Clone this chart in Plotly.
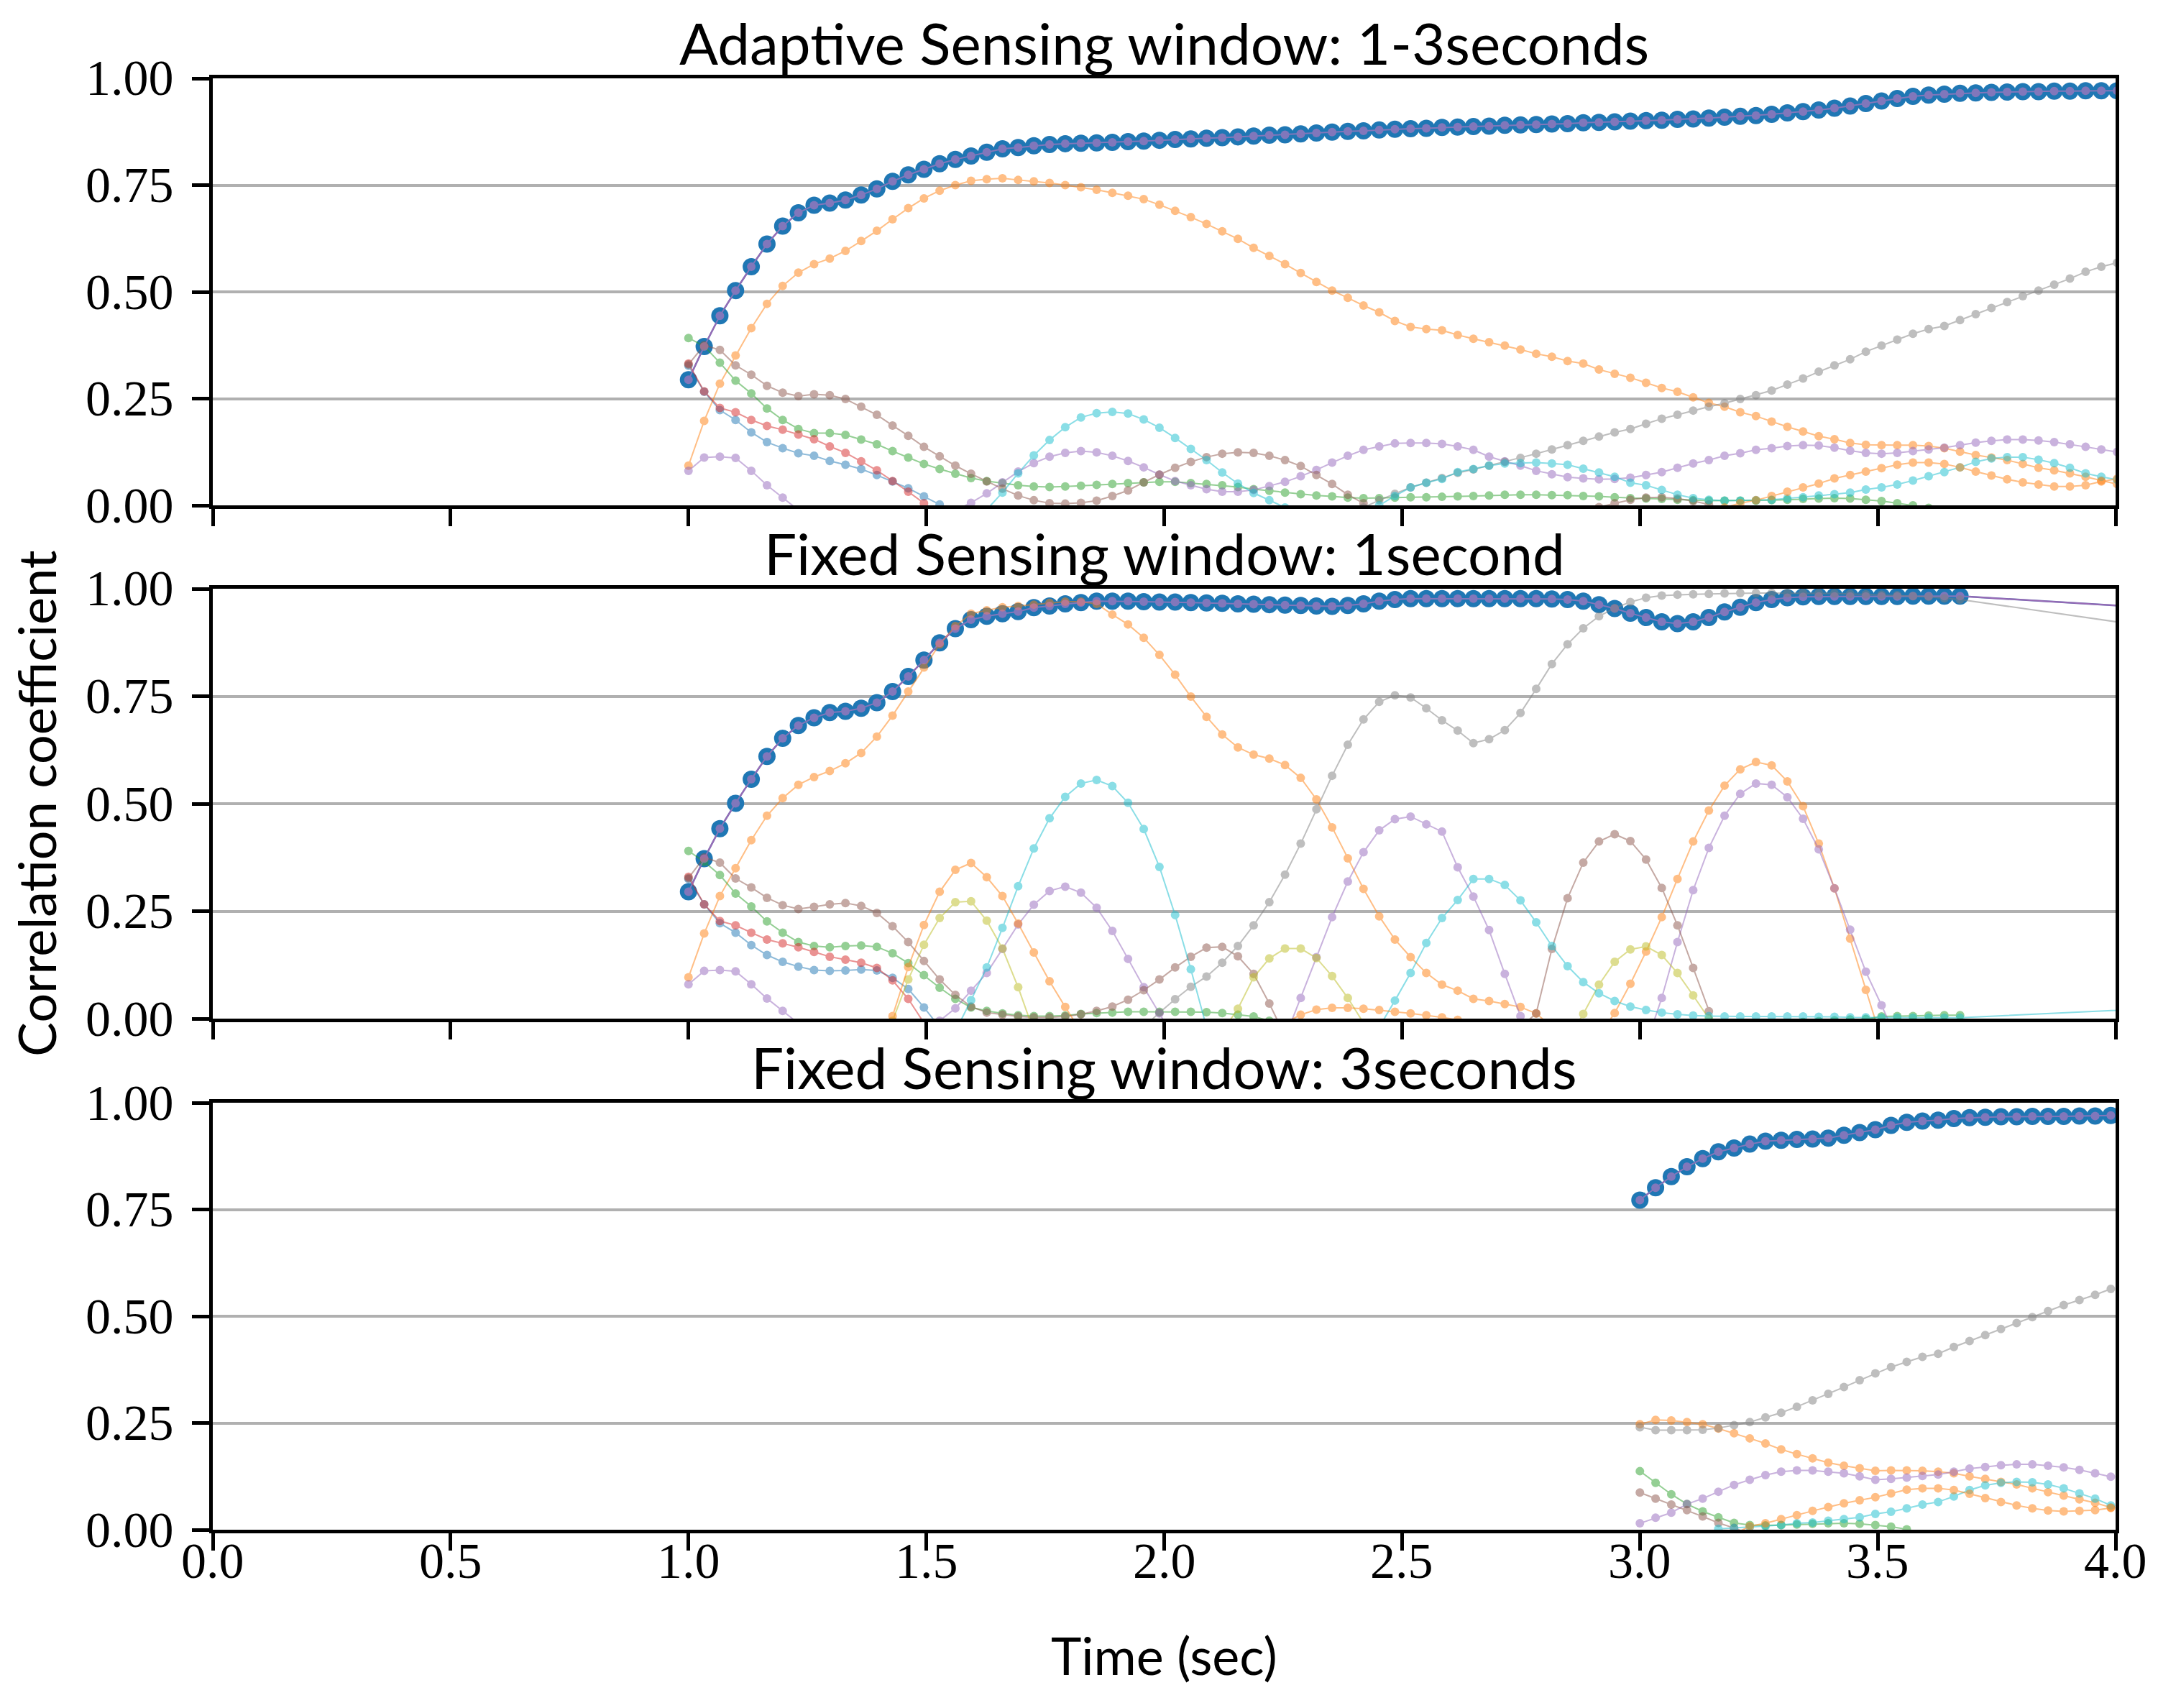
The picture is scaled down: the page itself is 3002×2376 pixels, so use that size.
import plotly.graph_objects as go

# ---------------- sampling ----------------
DT = 0.033          # sample period (s)
START_12 = 1.0      # first sample of panels 1 and 2
START_3 = 3.0       # first sample of panel 3
TAIL_T = 4.4        # next sample after the gap in panel 2 (outside the x range)

# ---------------- tick labels ----------------
X_TICKS = [0.0, 0.5, 1.0, 1.5, 2.0, 2.5, 3.0, 3.5, 4.0]
X_TICK_TEXT = ["0.0", "0.5", "1.0", "1.5", "2.0", "2.5", "3.0", "3.5", "4.0"]
Y_TICKS = [0.0, 0.25, 0.5, 0.75, 1.0]
Y_TICK_TEXT = ["0.00", "0.25", "0.50", "0.75", "1.00"]

TITLES = ["Adaptive Sensing window: 1-3seconds",
          "Fixed Sensing window: 1second",
          "Fixed Sensing window: 3seconds"]
Y_LABEL = "Correlation coefficient"
X_LABEL = "Time (sec)"

# ---------------- panel 1 (adaptive) : start index, values ----------------
P1_BLUE_K0 = 0
P1_BLUE = [0.327, 0.266, 0.223, 0.200, 0.171, 0.148, 0.134, 0.122, 0.116, 0.104,
           0.095, 0.085, 0.071, 0.056, 0.040, 0.021, 0.002, -0.020]
P1_ORANGE_K0 = 0
P1_ORANGE = [0.093, 0.198, 0.285, 0.351, 0.415, 0.472, 0.514, 0.545, 0.565, 0.578,
             0.596, 0.619, 0.643, 0.670, 0.696, 0.719, 0.737, 0.750, 0.760, 0.764,
             0.766, 0.762, 0.759, 0.755, 0.750, 0.745, 0.739, 0.732, 0.725, 0.717,
             0.704, 0.690, 0.675, 0.659, 0.642, 0.624, 0.603, 0.584, 0.565, 0.544,
             0.523, 0.503, 0.486, 0.468, 0.452, 0.432, 0.418, 0.413, 0.410, 0.399,
             0.390, 0.382, 0.374, 0.365, 0.355, 0.348, 0.338, 0.332, 0.318, 0.308,
             0.299, 0.287, 0.275, 0.266, 0.253, 0.240, 0.231, 0.218, 0.209, 0.196,
             0.184, 0.173, 0.162, 0.155, 0.146, 0.142, 0.141, 0.141, 0.141, 0.139,
             0.134, 0.126, 0.118, 0.112, 0.106, 0.097, 0.088, 0.082, 0.075, 0.067,
             0.058, 0.050]
P1_GREEN_K0 = 0
P1_GREEN = [0.392, 0.373, 0.334, 0.292, 0.262, 0.227, 0.200, 0.179, 0.169, 0.169,
            0.165, 0.154, 0.143, 0.127, 0.112, 0.097, 0.085, 0.074, 0.064, 0.057,
            0.052, 0.047, 0.044, 0.043, 0.044, 0.046, 0.048, 0.050, 0.052, 0.054,
            0.055, 0.055, 0.052, 0.050, 0.047, 0.043, 0.038, 0.034, 0.030, 0.026,
            0.023, 0.021, 0.018, 0.017, 0.017, 0.018, 0.019, 0.019, 0.020, 0.021,
            0.022, 0.023, 0.025, 0.025, 0.025, 0.024, 0.024, 0.022, 0.021, 0.019,
            0.017, 0.016, 0.015, 0.013, 0.012, 0.011, 0.011, 0.011, 0.011, 0.012,
            0.013, 0.015, 0.016, 0.017, 0.016, 0.013, 0.010, 0.005, 0.000, -0.006,
            -0.012]
P1_RED_K0 = 0
P1_RED = [0.332, 0.267, 0.228, 0.218, 0.200, 0.186, 0.177, 0.166, 0.155, 0.138,
          0.123, 0.103, 0.082, 0.057, 0.032, 0.005, -0.020, -0.045]
P1_PURPLE_K0 = 0
P1_PURPLE = [0.081, 0.112, 0.114, 0.111, 0.081, 0.047, 0.018, -0.012, -0.040, -0.060,
             -0.075, -0.085, -0.090, -0.085, -0.070, -0.050, -0.030, -0.012, 0.006, 0.028,
             0.054, 0.079, 0.099, 0.114, 0.123, 0.127, 0.124, 0.116, 0.104, 0.089,
             0.072, 0.057, 0.047, 0.038, 0.032, 0.032, 0.036, 0.045, 0.055, 0.068,
             0.083, 0.100, 0.116, 0.130, 0.138, 0.145, 0.146, 0.146, 0.144, 0.138,
             0.130, 0.114, 0.103, 0.093, 0.081, 0.073, 0.066, 0.063, 0.061, 0.062,
             0.065, 0.071, 0.078, 0.088, 0.098, 0.106, 0.116, 0.122, 0.130, 0.134,
             0.139, 0.141, 0.140, 0.135, 0.128, 0.123, 0.121, 0.123, 0.127, 0.131,
             0.135, 0.141, 0.147, 0.151, 0.154, 0.154, 0.152, 0.148, 0.143, 0.137,
             0.131, 0.125]
P1_BROWN_K0 = 0
P1_BROWN = [0.330, 0.375, 0.364, 0.328, 0.306, 0.280, 0.264, 0.256, 0.260, 0.258,
            0.249, 0.231, 0.212, 0.187, 0.163, 0.137, 0.115, 0.093, 0.074, 0.056,
            0.039, 0.023, 0.012, 0.005, 0.004, 0.006, 0.011, 0.022, 0.035, 0.054,
            0.072, 0.088, 0.102, 0.113, 0.121, 0.124, 0.123, 0.116, 0.106, 0.092,
            0.071, 0.050, 0.025, 0.005, -0.020, -0.045, -0.065, -0.080, -0.090, -0.095,
            -0.095, -0.090, -0.080, -0.068, -0.055, -0.040, -0.027, -0.015, -0.004, 0.005,
            0.013, 0.018, 0.019, 0.016, 0.010, 0.002, -0.010]
P1_PINK_K0 = 0
P1_PINK = [0.294, 0.372, 0.444, 0.503, 0.559, 0.612, 0.654, 0.685, 0.703, 0.708,
           0.715, 0.727, 0.741, 0.759, 0.774, 0.787, 0.800, 0.810, 0.818, 0.827,
           0.835, 0.838, 0.842, 0.845, 0.847, 0.848, 0.849, 0.850, 0.852, 0.853,
           0.855, 0.857, 0.858, 0.860, 0.861, 0.863, 0.865, 0.867, 0.868, 0.870,
           0.872, 0.874, 0.876, 0.877, 0.879, 0.881, 0.882, 0.883, 0.885, 0.886,
           0.887, 0.888, 0.890, 0.891, 0.892, 0.893, 0.894, 0.896, 0.897, 0.898,
           0.900, 0.901, 0.902, 0.904, 0.905, 0.907, 0.909, 0.911, 0.913, 0.916,
           0.919, 0.922, 0.926, 0.930, 0.935, 0.941, 0.947, 0.953, 0.958, 0.961,
           0.963, 0.965, 0.966, 0.967, 0.968, 0.969, 0.969, 0.970, 0.970, 0.971,
           0.971, 0.971]
P1_GRAY_K0 = 42
P1_GRAY = [-0.020, -0.005, 0.012, 0.027, 0.042, 0.053, 0.064, 0.076, 0.084, 0.093,
           0.102, 0.111, 0.121, 0.131, 0.141, 0.151, 0.161, 0.171, 0.179, 0.191,
           0.203, 0.212, 0.222, 0.231, 0.239, 0.249, 0.258, 0.269, 0.283, 0.297,
           0.313, 0.328, 0.342, 0.360, 0.374, 0.388, 0.402, 0.413, 0.420, 0.434,
           0.448, 0.462, 0.476, 0.490, 0.503, 0.517, 0.531, 0.547, 0.559, 0.568]
P1_CYAN_K0 = 19
P1_CYAN = [-0.010, 0.030, 0.075, 0.117, 0.153, 0.183, 0.206, 0.216, 0.219, 0.215,
           0.201, 0.182, 0.158, 0.132, 0.106, 0.077, 0.051, 0.029, 0.012, -0.005,
           -0.020, -0.030, -0.035, -0.030, -0.020, 0.000, 0.022, 0.042, 0.053, 0.062,
           0.078, 0.085, 0.093, 0.098, 0.099, 0.100, 0.098, 0.095, 0.086, 0.077,
           0.067, 0.053, 0.047, 0.036, 0.025, 0.017, 0.013, 0.011, 0.011, 0.012,
           0.013, 0.016, 0.019, 0.023, 0.026, 0.030, 0.037, 0.042, 0.049, 0.058,
           0.068, 0.078, 0.089, 0.102, 0.110, 0.113, 0.113, 0.107, 0.099, 0.088,
           0.075, 0.067, 0.060]
P1_ORANGE2_K0 = 66
P1_ORANGE2 = [-0.005, 0.005, 0.012, 0.022, 0.032, 0.042, 0.051, 0.063, 0.071, 0.079,
              0.087, 0.095, 0.100, 0.100, 0.097, 0.089, 0.079, 0.070, 0.061, 0.054,
              0.049, 0.044, 0.044, 0.047, 0.056, 0.062]

# ---------------- panel 2 (fixed 1 s) ----------------
P2_BLUE_K0 = 0
P2_BLUE = [0.325, 0.266, 0.222, 0.200, 0.171, 0.148, 0.132, 0.121, 0.113, 0.111,
           0.112, 0.114, 0.112, 0.095, 0.069, 0.026, -0.020]
P2_ORANGE_K0 = 0
P2_ORANGE = [0.096, 0.198, 0.285, 0.350, 0.415, 0.472, 0.513, 0.544, 0.562, 0.576,
             0.594, 0.618, 0.656, 0.705, 0.761, 0.817, 0.871, 0.913, 0.942, 0.950,
             0.957, 0.960, 0.963, 0.967, 0.970, 0.970, 0.965, 0.940, 0.917, 0.886,
             0.846, 0.800, 0.749, 0.702, 0.661, 0.631, 0.614, 0.605, 0.590, 0.560,
             0.510, 0.445, 0.373, 0.302, 0.238, 0.184, 0.143, 0.106, 0.079, 0.065,
             0.046, 0.041, 0.034, 0.027, 0.012, -0.020, -0.050, -0.060, -0.040, 0.013,
             0.081, 0.156, 0.236, 0.325, 0.412, 0.484, 0.542, 0.580, 0.597, 0.589,
             0.552, 0.494, 0.407, 0.303, 0.186, 0.067, -0.050]
P2_GREEN_K0 = 0
P2_GREEN = [0.390, 0.365, 0.334, 0.291, 0.261, 0.226, 0.200, 0.178, 0.169, 0.166,
            0.169, 0.170, 0.167, 0.152, 0.129, 0.101, 0.072, 0.046, 0.026, 0.018,
            0.012, 0.008, 0.006, 0.006, 0.007, 0.011, 0.013, 0.014, 0.016, 0.016,
            0.016, 0.016, 0.016, 0.015, 0.013, 0.009, 0.005, -0.005, -0.015, -0.025,
            -0.035, -0.045, -0.050, -0.055, -0.060, -0.060, -0.058, -0.057, -0.055, -0.052,
            -0.050, -0.049, -0.046, -0.044, -0.041, -0.040, -0.037, -0.036, -0.034, -0.031,
            -0.030, -0.027, -0.026, -0.024, -0.021, -0.020, -0.018, -0.015, -0.014, -0.012,
            -0.010, -0.008, -0.006, -0.004, -0.002, -0.001, 0.005, 0.006, 0.006, 0.007,
            0.008, 0.008]
P2_RED_K0 = 0
P2_RED = [0.330, 0.266, 0.227, 0.217, 0.200, 0.184, 0.175, 0.166, 0.155, 0.144,
          0.137, 0.130, 0.118, 0.089, 0.046, -0.010, -0.060]
P2_PURPLE_K0 = 0
P2_PURPLE = [0.080, 0.111, 0.113, 0.110, 0.080, 0.047, 0.018, -0.010, -0.040, -0.060,
             -0.075, -0.085, -0.085, -0.075, -0.055, -0.030, -0.005, 0.024, 0.065, 0.106,
             0.162, 0.219, 0.265, 0.297, 0.307, 0.293, 0.258, 0.204, 0.139, 0.073,
             0.012, -0.050, -0.090, -0.120, -0.130, -0.130, -0.120, -0.090, -0.045, 0.048,
             0.143, 0.236, 0.319, 0.387, 0.438, 0.464, 0.470, 0.452, 0.435, 0.352,
             0.284, 0.206, 0.104, 0.006, -0.090, -0.160, -0.200, -0.210, -0.190, -0.150,
             -0.100, -0.060, 0.048, 0.178, 0.299, 0.397, 0.472, 0.523, 0.547, 0.544,
             0.515, 0.465, 0.394, 0.303, 0.207, 0.109, 0.031, -0.050]
P2_BROWN_K0 = 0
P2_BROWN = [0.327, 0.375, 0.363, 0.326, 0.305, 0.281, 0.264, 0.255, 0.260, 0.266,
            0.269, 0.262, 0.246, 0.215, 0.178, 0.134, 0.091, 0.055, 0.028, 0.014,
            0.009, 0.005, 0.003, 0.003, 0.005, 0.010, 0.018, 0.028, 0.044, 0.066,
            0.091, 0.119, 0.144, 0.165, 0.167, 0.145, 0.104, 0.035, -0.040, -0.110,
            -0.170, -0.210, -0.230, -0.240, -0.240, -0.230, -0.210, -0.190, -0.160, -0.130,
            -0.100, -0.070, -0.040, -0.020, 0.012, 0.162, 0.280, 0.363, 0.412, 0.429,
            0.413, 0.370, 0.304, 0.217, 0.118, 0.017, -0.080]
P2_PINK_K0 = 0
P2_PINK = [0.295, 0.372, 0.442, 0.501, 0.557, 0.610, 0.652, 0.682, 0.700, 0.712,
           0.715, 0.722, 0.735, 0.761, 0.796, 0.834, 0.874, 0.907, 0.928, 0.936,
           0.942, 0.947, 0.956, 0.960, 0.965, 0.968, 0.971, 0.971, 0.971, 0.970,
           0.969, 0.969, 0.968, 0.967, 0.966, 0.965, 0.964, 0.963, 0.962, 0.961,
           0.960, 0.959, 0.961, 0.965, 0.971, 0.975, 0.977, 0.977, 0.977, 0.977,
           0.977, 0.977, 0.977, 0.977, 0.977, 0.976, 0.975, 0.971, 0.963, 0.954,
           0.943, 0.933, 0.923, 0.919, 0.923, 0.933, 0.946, 0.957, 0.968, 0.975,
           0.979, 0.981, 0.982, 0.982, 0.982, 0.982, 0.982, 0.982, 0.983, 0.983,
           0.983, 0.983]
P2_PINK_TAIL = 0.934
P2_GRAY_K0 = 29
P2_GRAY = [-0.020, 0.014, 0.045, 0.074, 0.098, 0.130, 0.169, 0.217, 0.271, 0.335,
           0.407, 0.487, 0.565, 0.637, 0.696, 0.737, 0.752, 0.747, 0.722, 0.694,
           0.670, 0.641, 0.650, 0.671, 0.711, 0.767, 0.825, 0.871, 0.908, 0.936,
           0.955, 0.969, 0.979, 0.984, 0.986, 0.987, 0.988, 0.989, 0.990, 0.990,
           0.990, 0.990, 0.990, 0.990, 0.989, 0.988, 0.987, 0.986, 0.985, 0.983,
           0.981, 0.978, 0.975]
P2_GRAY_TAIL = 0.860
P2_OLIVE_K0 = 12
P2_OLIVE = [-0.040, -0.005, 0.091, 0.172, 0.234, 0.271, 0.273, 0.228, 0.163, 0.073,
            -0.030, -0.100, -0.140, -0.160, -0.160, -0.150, -0.130, -0.110, -0.090, -0.070,
            -0.050, -0.035, -0.030, 0.023, 0.096, 0.140, 0.163, 0.163, 0.141, 0.099,
            0.048, -0.010, -0.070, -0.120, -0.150, -0.170, -0.180, -0.180, -0.170, -0.160,
            -0.150, -0.140, -0.120, -0.090, -0.050, 0.011, 0.079, 0.132, 0.161, 0.168,
            0.148, 0.106, 0.054, 0.000, -0.050]
P2_CYAN_K0 = 17
P2_CYAN = [-0.030, 0.043, 0.119, 0.211, 0.308, 0.396, 0.466, 0.516, 0.547, 0.555,
           0.541, 0.502, 0.441, 0.353, 0.241, 0.115, -0.020, -0.120, -0.180, -0.200,
           -0.190, -0.170, -0.150, -0.130, -0.110, -0.090, -0.060, -0.020, 0.042, 0.106,
           0.176, 0.234, 0.276, 0.325, 0.325, 0.311, 0.275, 0.224, 0.169, 0.122,
           0.085, 0.059, 0.041, 0.028, 0.020, 0.014, 0.010, 0.007, 0.006, 0.005,
           0.005, 0.005, 0.005, 0.005, 0.005, 0.004, 0.004, 0.003, 0.003, 0.002,
           0.002, 0.002, 0.002, 0.002, 0.002]
P2_CYAN_TAIL = 0.040
P2_ORANGE2_K0 = 12
P2_ORANGE2 = [-0.030, 0.006, 0.120, 0.218, 0.295, 0.346, 0.362, 0.329, 0.285, 0.221,
              0.154, 0.087, 0.027, -0.030, -0.070, -0.090, -0.100, -0.100, -0.090, -0.080,
              -0.070, -0.060, -0.050, -0.040, -0.030, -0.020, -0.010, 0.009, 0.021, 0.025,
              0.025, 0.023, 0.020, 0.016, 0.012, 0.008, 0.003, -0.003, -0.010]

# ---------------- panel 3 (fixed 3 s) ----------------
P3_ORANGE_K0 = 0
P3_ORANGE = [0.247, 0.257, 0.256, 0.252, 0.247, 0.237, 0.226, 0.214, 0.202, 0.188,
             0.177, 0.167, 0.157, 0.150, 0.144, 0.138, 0.139, 0.139, 0.138, 0.136,
             0.132, 0.125, 0.119, 0.112, 0.106, 0.097, 0.088, 0.080, 0.071, 0.063,
             0.052]
P3_GREEN_K0 = 0
P3_GREEN = [0.137, 0.110, 0.083, 0.060, 0.043, 0.029, 0.016, 0.011, 0.010, 0.011,
            0.012, 0.014, 0.015, 0.015, 0.014, 0.011, 0.007, 0.001, -0.010]
P3_PURPLE_K0 = 0
P3_PURPLE = [0.015, 0.028, 0.040, 0.060, 0.073, 0.089, 0.105, 0.117, 0.128, 0.136,
             0.139, 0.139, 0.136, 0.132, 0.125, 0.117, 0.119, 0.122, 0.126, 0.129,
             0.136, 0.143, 0.147, 0.151, 0.153, 0.153, 0.150, 0.146, 0.140, 0.132,
             0.124]
P3_BROWN_K0 = 0
P3_BROWN = [0.087, 0.073, 0.059, 0.046, 0.031, 0.016, 0.004, -0.010]
P3_PINK_K0 = 0
P3_PINK = [0.772, 0.801, 0.827, 0.850, 0.869, 0.885, 0.894, 0.903, 0.910, 0.912,
           0.914, 0.915, 0.917, 0.924, 0.930, 0.937, 0.947, 0.954, 0.957, 0.959,
           0.963, 0.965, 0.966, 0.967, 0.967, 0.968, 0.968, 0.968, 0.969, 0.969,
           0.970]
P3_GRAY_K0 = 0
P3_GRAY = [0.240, 0.233, 0.233, 0.233, 0.234, 0.238, 0.245, 0.252, 0.263, 0.274,
           0.288, 0.303, 0.318, 0.334, 0.350, 0.366, 0.381, 0.393, 0.405, 0.412,
           0.428, 0.442, 0.456, 0.470, 0.484, 0.498, 0.512, 0.526, 0.538, 0.550,
           0.564]
P3_CYAN_K0 = 4
P3_CYAN = [-0.010, 0.002, 0.004, 0.006, 0.008, 0.011, 0.015, 0.017, 0.021, 0.025,
           0.029, 0.037, 0.042, 0.050, 0.059, 0.065, 0.078, 0.093, 0.104, 0.110,
           0.112, 0.111, 0.106, 0.097, 0.085, 0.073, 0.057]
P3_ORANGE2_K0 = 6
P3_ORANGE2 = [-0.010, 0.008, 0.015, 0.025, 0.034, 0.044, 0.053, 0.062, 0.069, 0.076,
              0.085, 0.094, 0.097, 0.097, 0.093, 0.084, 0.074, 0.065, 0.057, 0.050,
              0.045, 0.043, 0.044, 0.046, 0.051]

# ---------------- styling ----------------
TAB = {"blue": "#1f77b4", "orange": "#ff7f0e", "green": "#2ca02c", "red": "#d62728",
       "purple": "#9467bd", "brown": "#8c564b", "pink": "#e377c2", "gray": "#7f7f7f",
       "olive": "#bcbd22", "cyan": "#17becf"}
W, H = 3002, 2376
OFF = 8  # page body margin offset (px)


def px_x(X):
    return (X - OFF) / W


def px_y(Y):
    return 1 - (Y - OFF) / H


X_DOM = [px_x(296), px_x(2943)]
Y_DOMS = [[px_y(703), px_y(109)], [px_y(1417), px_y(819)], [px_y(2128), px_y(1534)]]
TICK_FONT = dict(family="Liberation Serif", size=70, color="black")
LABEL_FONT = dict(family="Lato", size=72, color="black")
TITLE_FONT = dict(family="Lato", size=80, color="black")


def times(t0, k0, n):
    return [round(t0 + DT * (k0 + i), 4) for i in range(n)]


panels = [
    dict(t0=START_12, big=(P1_PINK_K0, P1_PINK, None), series=[
        ("blue", P1_BLUE_K0, P1_BLUE, None), ("orange", P1_ORANGE_K0, P1_ORANGE, None),
        ("green", P1_GREEN_K0, P1_GREEN, None), ("red", P1_RED_K0, P1_RED, None),
        ("purple", P1_PURPLE_K0, P1_PURPLE, None), ("brown", P1_BROWN_K0, P1_BROWN, None),
        ("pink", P1_PINK_K0, P1_PINK, None), ("gray", P1_GRAY_K0, P1_GRAY, None),
        ("cyan", P1_CYAN_K0, P1_CYAN, None), ("orange", P1_ORANGE2_K0, P1_ORANGE2, None)]),
    dict(t0=START_12, big=(P2_PINK_K0, P2_PINK, P2_PINK_TAIL), series=[
        ("blue", P2_BLUE_K0, P2_BLUE, None), ("orange", P2_ORANGE_K0, P2_ORANGE, None),
        ("green", P2_GREEN_K0, P2_GREEN, None), ("red", P2_RED_K0, P2_RED, None),
        ("purple", P2_PURPLE_K0, P2_PURPLE, None), ("brown", P2_BROWN_K0, P2_BROWN, None),
        ("pink", P2_PINK_K0, P2_PINK, P2_PINK_TAIL), ("gray", P2_GRAY_K0, P2_GRAY, P2_GRAY_TAIL),
        ("olive", P2_OLIVE_K0, P2_OLIVE, None), ("cyan", P2_CYAN_K0, P2_CYAN, P2_CYAN_TAIL),
        ("orange", P2_ORANGE2_K0, P2_ORANGE2, None)]),
    dict(t0=START_3, big=(P3_PINK_K0, P3_PINK, None), series=[
        ("orange", P3_ORANGE_K0, P3_ORANGE, None), ("green", P3_GREEN_K0, P3_GREEN, None),
        ("purple", P3_PURPLE_K0, P3_PURPLE, None), ("brown", P3_BROWN_K0, P3_BROWN, None),
        ("pink", P3_PINK_K0, P3_PINK, None), ("gray", P3_GRAY_K0, P3_GRAY, None),
        ("cyan", P3_CYAN_K0, P3_CYAN, None), ("orange", P3_ORANGE2_K0, P3_ORANGE2, None)]),
]

fig = go.Figure()

for i, p in enumerate(panels):
    xa = "x" if i == 0 else f"x{i + 1}"
    ya = "y" if i == 0 else f"y{i + 1}"
    k0, vals, tail = p["big"]
    xs = times(p["t0"], k0, len(vals))
    ys = list(vals)
    if tail is not None:
        xs.append(TAIL_T)
        ys.append(tail)
    fig.add_trace(go.Scatter(
        x=xs, y=ys, xaxis=xa, yaxis=ya, mode="lines+markers",
        line=dict(color="#4f60aa", width=2.5),
        marker=dict(color=TAB["blue"], size=24, line=dict(width=0)),
        showlegend=False, hoverinfo="skip"))
    for cname, k0, vals, tail in p["series"]:
        xs = times(p["t0"], k0, len(vals))
        ys = list(vals)
        if tail is not None:
            xs.append(TAIL_T)
            ys.append(tail)
        fig.add_trace(go.Scatter(
            x=xs, y=ys, xaxis=xa, yaxis=ya, mode="lines+markers",
            line=dict(color=TAB[cname], width=2),
            marker=dict(color=TAB[cname], size=12, line=dict(width=0)),
            opacity=0.5, showlegend=False, hoverinfo="skip"))

axis_common = dict(showline=True, linecolor="black", linewidth=5, mirror=True,
                   ticks="outside", ticklen=24, tickwidth=5, tickcolor="black",
                   zeroline=False, showticklabels=False, automargin=False)
layout = dict(width=W, height=H, margin=dict(l=0, r=0, t=0, b=0, pad=0),
              paper_bgcolor="white", plot_bgcolor="white", showlegend=False)
for i in range(3):
    sx = "" if i == 0 else str(i + 1)
    layout[f"xaxis{sx}"] = dict(axis_common, domain=X_DOM, range=[0, 4],
                                anchor=f"y{sx}", tickvals=X_TICKS, showgrid=False)
    layout[f"yaxis{sx}"] = dict(axis_common, domain=Y_DOMS[i], range=[0, 1],
                                anchor=f"x{sx}", tickvals=Y_TICKS,
                                showgrid=True, gridcolor="#b0b0b0", gridwidth=4)
fig.update_layout(**layout)

xc = (X_DOM[0] + X_DOM[1]) / 2
annotations = []
# tick labels, placed on the axis scales
for i in range(3):
    yref = "y" if i == 0 else f"y{i + 1}"
    for v, txt in zip(Y_TICKS, Y_TICK_TEXT):
        annotations.append(dict(text=txt, x=px_x(244), xref="paper", y=v, yref=yref,
                                xanchor="right", yanchor="middle", showarrow=False,
                                font=TICK_FONT))
for v, txt in zip(X_TICKS, X_TICK_TEXT):
    annotations.append(dict(text=txt, x=v, xref="x3", y=px_y(2171), yref="paper",
                            xanchor="center", yanchor="middle", showarrow=False,
                            font=TICK_FONT))
for i, title in enumerate(TITLES):
    annotations.append(dict(text=title, x=xc, y=Y_DOMS[i][1], xref="paper", yref="paper",
                            xanchor="center", yanchor="bottom", showarrow=False,
                            font=TITLE_FONT, yshift=0))
annotations.append(dict(text=Y_LABEL, x=px_x(50), y=(Y_DOMS[1][0] + Y_DOMS[1][1]) / 2,
                        xref="paper", yref="paper", xanchor="center", yanchor="middle",
                        textangle=-90, showarrow=False, font=LABEL_FONT))
annotations.append(dict(text=X_LABEL, x=xc, y=px_y(2302), xref="paper", yref="paper",
                        xanchor="center", yanchor="middle", showarrow=False, font=LABEL_FONT))
fig.update_layout(annotations=annotations)

fig.write_html("out.html")
